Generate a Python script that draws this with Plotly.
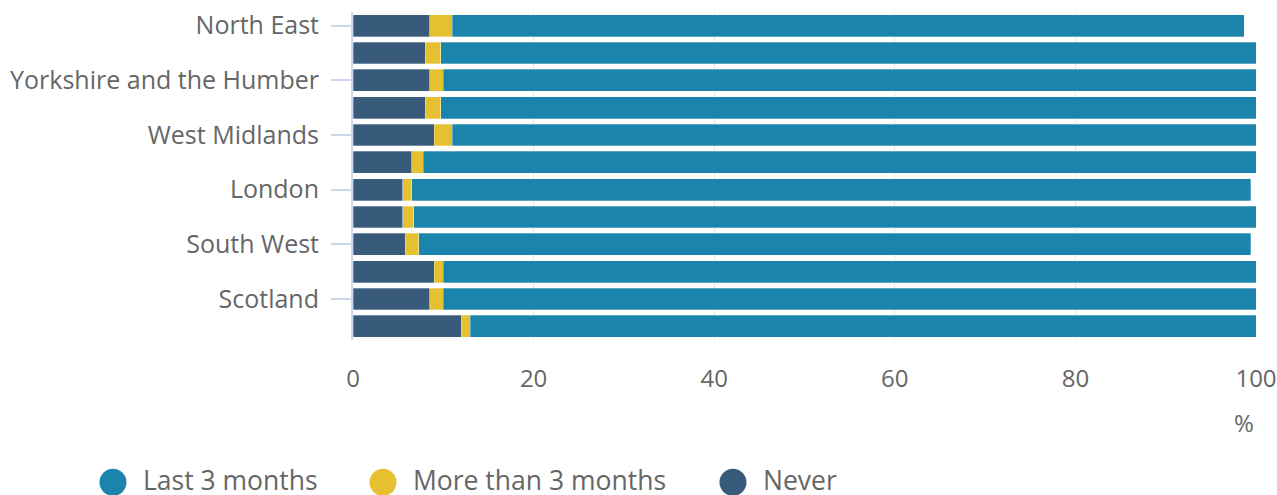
import plotly.graph_objects as go

regions = ["North East", "North West", "Yorkshire and the Humber", "East Midlands",
           "West Midlands", "East", "London", "South East", "South West",
           "Wales", "Scotland", "Northern Ireland"]
never = [8.5, 8.0, 8.5, 8.0, 9.0, 6.5, 5.5, 5.5, 5.8, 9.0, 8.5, 12.0]
more_than_3 = [2.5, 1.7, 1.5, 1.7, 2.0, 1.3, 1.0, 1.2, 1.5, 1.0, 1.5, 1.0]
last_3 = [87.7, 90.3, 90.0, 90.3, 89.0, 92.2, 92.9, 93.3, 92.1, 90.0, 90.0, 87.0]
shown_labels = ["North East", "Yorkshire and the Humber", "West Midlands",
                "London", "South West", "Scotland"]
x_ticks = [0, 20, 40, 60, 80, 100]
legend_names = ["Last 3 months", "More than 3 months", "Never"]

colors = {"Last 3 months": "#1b84ad", "More than 3 months": "#e5c131", "Never": "#395b7b"}
series = [("Never", never), ("More than 3 months", more_than_3), ("Last 3 months", last_3)]

font = "Open Sans, sans-serif"
grey = "#666666"

fig = go.Figure()
for name, vals in series:
    fig.add_trace(go.Bar(y=regions, x=vals, orientation="h", name=name,
                         marker=dict(color=colors[name],
                                     line=dict(width=0.6, color="rgba(255,255,255,0.5)")),
                         showlegend=False))

# manual legend (large circular symbols)
legend_circle_x = [-0.2658, 0.0332, 0.4208]
legend_text_x = [-0.2347, 0.0643, 0.4518]
legend_y = -0.428
shapes = []
annotations = []
for name, cx, tx in zip(legend_names, legend_circle_x, legend_text_x):
    shapes.append(dict(type="circle", xref="paper", yref="paper",
                       xsizemode="pixel", ysizemode="pixel",
                       xanchor=cx, yanchor=-0.434,
                       x0=-13.5, x1=13.5, y0=-13.5, y1=13.5,
                       fillcolor=colors[name], line=dict(width=0)))
    annotations.append(dict(text=name, xref="paper", yref="paper", x=tx, y=legend_y,
                            xanchor="left", yanchor="middle", showarrow=False,
                            font=dict(family=font, size=26.5, color=grey)))
annotations.append(dict(text="%", xref="paper", yref="paper", x=0.9867, y=-0.25,
                        xanchor="center", yanchor="middle", showarrow=False,
                        font=dict(family=font, size=24, color=grey)))

fig.update_layout(
    barmode="stack", bargap=0.2,
    width=1277, height=495,
    margin=dict(l=353, r=21, t=12, b=155, autoexpand=False),
    plot_bgcolor="white", paper_bgcolor="white",
    font=dict(family=font, size=24, color=grey),
    showlegend=False,
    xaxis=dict(range=[0, 100], tickvals=x_ticks, showgrid=True, gridcolor="#e6e6e6",
               gridwidth=1, zeroline=False, showline=False, ticks="",
               ticklabelstandoff=22, ticklabeloverflow="allow",
               tickfont=dict(size=24, color=grey)),
    yaxis=dict(categoryorder="array", categoryarray=regions, autorange="reversed",
               tickvals=shown_labels, ticks="outside", ticklen=20, tickcolor="#ccd6eb",
               tickwidth=2, showline=True, linecolor="#ccd6eb", linewidth=2,
               showgrid=False, ticklabelstandoff=7, tickfont=dict(size=25, color=grey)),
    shapes=shapes,
    annotations=annotations,
)

fig.write_html("out.html", config={"displayModeBar": False},
               post_script="document.body.style.margin='0';")
